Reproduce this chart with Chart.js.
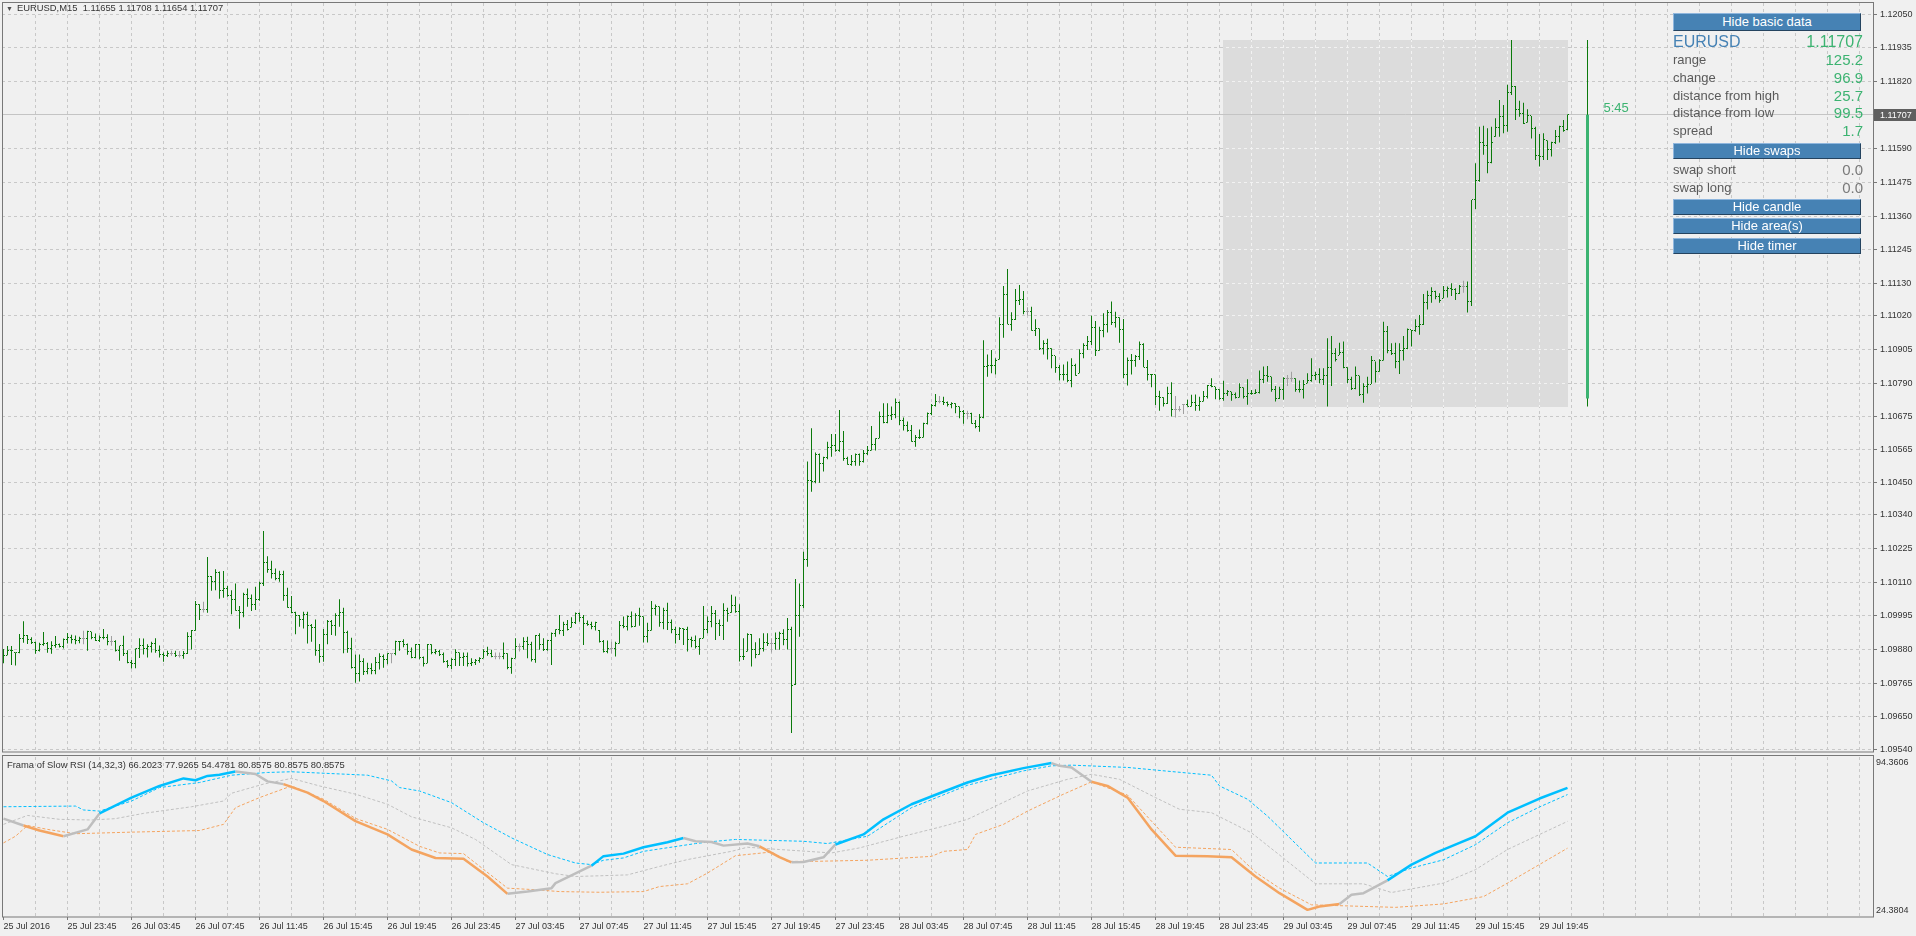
<!DOCTYPE html>
<html lang="en">
<head>
<meta charset="UTF-8">
<title>EURUSD,M15</title>
<script src="https://cdn.jsdelivr.net/npm/chart.js@4.4.0/dist/chart.umd.min.js"></script>
<style>
  html, body { margin: 0; padding: 0; background: #f0f0f0; }
  body { width: 1916px; height: 936px; position: relative; overflow: hidden; font-family: 'Liberation Sans', Arial, sans-serif; }
  canvas { position: absolute; left: 0; }
  #mainChart { top: 0; }
  #subChart { top: 754px; }
  .title { position: absolute; font-size: 9.4px; line-height: 11px; color: #333; white-space: pre; }
  .tri { display: inline-block; width: 11px; font-size: 7px; color: #505050; }
  .btn { position: absolute; left: 1673px; width: 188px; background: #4682b4; color: #fff; font-size: 13px; text-align: center;
         border-top: 1px solid #8fb6dd; border-left: 1px solid #8fb6dd; border-bottom: 1px solid #24435f; border-right: 1px solid #24435f; box-sizing: border-box; }
  .row { position: absolute; left: 1673px; width: 190px; height: 18px; line-height: 18px; font-size: 13px; color: #5a5a5a; }
  .row b { position: absolute; right: 0; top: 0; font-weight: normal; font-size: 15px; color: #3cb371; }
  .row.sym { font-size: 16px; color: #4682b4; }
  .row.sym b { font-size: 16px; }
  .row.grey b { color: #7a7a7a; }
</style>
</head>
<body>
<canvas id="mainChart" width="1916" height="755"></canvas>
<canvas id="subChart" width="1916" height="182"></canvas>
<div class="title" id="mainTitle" style="left:6px; top:2px;"></div>
<div class="title" id="subTitle" style="left:7px; top:759px;"></div>
<div id="panel"></div>

<script>
// ---- chart data (EURUSD M15, 25 Jul 19:45 .. 29 Jul 21:30) ----
const symbolName = 'EURUSD';
const periodName = 'M15';

const opens = [
1.09866,1.09861,1.09876,1.09870,1.09869,1.09918,1.09928,1.09916,1.09903,1.09878,
1.09899,1.09901,1.09884,1.09895,1.09899,1.09890,1.09915,1.09920,1.09915,1.09912,
1.09918,1.09918,1.09941,1.09922,1.09912,1.09922,1.09920,1.09907,1.09907,1.09876,
1.09893,1.09867,1.09835,1.09832,1.09882,1.09895,1.09882,1.09891,1.09901,1.09876,
1.09863,1.09861,1.09868,1.09868,1.09861,1.09861,1.09867,1.09924,1.09944,1.10033,
1.10018,1.10018,1.10129,1.10111,1.10142,1.10083,1.10089,1.10065,1.10051,1.10013,
1.10005,1.10068,1.10055,1.10034,1.10050,1.10105,1.10176,1.10154,1.10141,1.10122,
1.10138,1.10066,1.10025,1.10005,1.09997,1.09983,1.10000,1.09963,1.09957,1.09877,
1.09858,1.09933,1.09975,1.09961,1.09996,1.10006,1.09937,1.09884,1.09818,1.09797,
1.09838,1.09804,1.09815,1.09810,1.09837,1.09855,1.09846,1.09865,1.09865,1.09906,
1.09907,1.09899,1.09873,1.09854,1.09896,1.09854,1.09833,1.09896,1.09870,1.09873,
1.09862,1.09839,1.09827,1.09847,1.09870,1.09852,1.09856,1.09833,1.09835,1.09842,
1.09850,1.09875,1.09867,1.09858,1.09856,1.09856,1.09865,1.09819,1.09850,1.09890,
1.09890,1.09906,1.09899,1.09847,1.09928,1.09899,1.09879,1.09911,1.09936,1.09947,
1.09945,1.09967,1.09955,1.09972,1.10002,1.09990,1.09970,1.09967,1.09958,1.09945,
1.09907,1.09873,1.09884,1.09884,1.09901,1.09961,1.09958,1.09993,1.09958,1.09996,
1.09993,1.09924,1.09945,1.10020,1.10027,1.09972,1.10013,1.09972,1.09947,1.09930,
1.09952,1.09947,1.09915,1.09911,1.09890,1.09919,1.09949,1.09975,1.10002,1.09970,
1.09961,1.10015,1.10006,1.10029,1.10010,1.09856,1.09873,1.09930,1.09879,1.09864,
1.09884,1.09904,1.09901,1.09901,1.09919,1.09936,1.09913,1.09950,1.09759,1.09996,
1.10032,1.10186,1.10459,1.10454,1.10545,1.10514,1.10537,1.10571,1.10577,1.10560,
1.10590,1.10533,1.10513,1.10522,1.10548,1.10522,1.10550,1.10560,1.10579,1.10602,
1.10676,1.10655,1.10678,1.10684,1.10723,1.10664,1.10645,1.10630,1.10592,1.10605,
1.10604,1.10653,1.10685,1.10714,1.10727,1.10727,1.10725,1.10718,1.10721,1.10710,
1.10693,1.10687,1.10687,1.10651,1.10641,1.10673,1.10846,1.10852,1.10851,1.10871,
1.10991,1.11093,1.10991,1.11006,1.11074,1.11076,1.11034,1.11034,1.10969,1.10977,
1.10907,1.10926,1.10909,1.10883,1.10845,1.10820,1.10821,1.10799,1.10849,1.10824,
1.10890,1.10920,1.10934,1.10980,1.10903,1.10969,1.10989,1.11031,1.10997,1.11015,
1.10972,1.10818,1.10867,1.10869,1.10881,1.10923,1.10844,1.10818,1.10820,1.10744,
1.10741,1.10721,1.10755,1.10701,1.10701,1.10718,1.10718,1.10710,1.10725,1.10715,
1.10727,1.10744,1.10782,1.10778,1.10767,1.10736,1.10755,1.10761,1.10750,1.10741,
1.10775,1.10744,1.10753,1.10755,1.10758,1.10801,1.10815,1.10812,1.10767,1.10738,
1.10770,1.10807,1.10807,1.10807,1.10770,1.10767,1.10790,1.10799,1.10815,1.10818,
1.10801,1.10815,1.10844,1.10892,1.10886,1.10894,1.10844,1.10801,1.10772,1.10815,
1.10750,1.10780,1.10787,1.10869,1.10829,1.10869,1.10966,1.10901,1.10892,1.10864,
1.10903,1.10909,1.10972,1.10969,1.10983,1.10989,1.11065,1.11091,1.11103,1.11086,
1.11080,1.11106,1.11114,1.11111,1.11095,1.11120,1.11120,1.11069,1.11416,1.11481,
1.11613,1.11601,1.11543,1.11632,1.11664,1.11700,1.11669,1.11782,1.11803,1.11726,
1.11710,1.11680,1.11703,1.11661,1.11566,1.11564,1.11619,1.11589,1.11612,1.11634,
1.11666,1.11655];

const highs = [
1.09882,1.09892,1.09892,1.09870,1.09933,1.09977,1.09930,1.09922,1.09907,1.09903,
1.09940,1.09906,1.09908,1.09926,1.09901,1.09918,1.09937,1.09931,1.09928,1.09924,
1.09944,1.09944,1.09941,1.09935,1.09928,1.09950,1.09932,1.09926,1.09912,1.09893,
1.09927,1.09878,1.09844,1.09884,1.09919,1.09918,1.09898,1.09907,1.09919,1.09894,
1.09870,1.09876,1.09876,1.09876,1.09875,1.09875,1.09939,1.09947,1.10046,1.10035,
1.10043,1.10196,1.10131,1.10154,1.10147,1.10148,1.10097,1.10083,1.10106,1.10029,
1.10074,1.10089,1.10068,1.10095,1.10112,1.10285,1.10199,1.10183,1.10157,1.10149,
1.10149,1.10091,1.10063,1.10009,1.09998,1.10009,1.10009,1.09967,1.09983,1.09899,
1.09950,1.09981,1.09981,1.10004,1.10052,1.10023,1.09944,1.09920,1.09863,1.09863,
1.09850,1.09835,1.09833,1.09855,1.09867,1.09863,1.09867,1.09867,1.09910,1.09909,
1.09915,1.09901,1.09887,1.09899,1.09899,1.09856,1.09899,1.09898,1.09882,1.09879,
1.09870,1.09844,1.09850,1.09881,1.09870,1.09870,1.09870,1.09850,1.09848,1.09854,
1.09881,1.09890,1.09879,1.09870,1.09870,1.09904,1.09867,1.09852,1.09919,1.09901,
1.09922,1.09924,1.09907,1.09930,1.09936,1.09919,1.09913,1.09938,1.09949,1.09998,
1.09975,1.09981,1.09990,1.10007,1.10007,1.09998,1.09979,1.09975,1.09975,1.09947,
1.09913,1.09911,1.09907,1.09907,1.09978,1.09993,1.09996,1.10010,1.10004,1.10023,
1.09993,1.09972,1.10046,1.10034,1.10027,1.10023,1.10040,1.09983,1.09958,1.09956,
1.09953,1.09958,1.09924,1.09928,1.09919,1.10029,1.09993,1.10029,1.10015,1.09983,
1.10038,1.10023,1.10067,1.10061,1.10035,1.09919,1.09936,1.09933,1.09905,1.09919,
1.09936,1.09936,1.09919,1.09938,1.09941,1.09949,1.09988,1.09958,1.10121,1.10106,
1.10214,1.10522,1.10636,1.10553,1.10550,1.10539,1.10590,1.10616,1.10616,1.10698,
1.10627,1.10539,1.10545,1.10550,1.10550,1.10562,1.10575,1.10644,1.10602,1.10693,
1.10721,1.10721,1.10710,1.10738,1.10727,1.10673,1.10659,1.10647,1.10613,1.10632,
1.10655,1.10690,1.10719,1.10753,1.10746,1.10744,1.10727,1.10725,1.10721,1.10710,
1.10698,1.10696,1.10689,1.10664,1.10685,1.10937,1.10888,1.10903,1.10875,1.11015,
1.11122,1.11180,1.11032,1.11112,1.11125,1.11105,1.11049,1.11051,1.11008,1.10977,
1.10937,1.10942,1.10909,1.10883,1.10852,1.10854,1.10864,1.10875,1.10856,1.10906,
1.10926,1.10951,1.11020,1.11002,1.10983,1.11029,1.11040,1.11069,1.11034,1.11015,
1.11009,1.10878,1.10890,1.10886,1.10932,1.10926,1.10869,1.10821,1.10820,1.10764,
1.10742,1.10778,1.10793,1.10746,1.10712,1.10719,1.10733,1.10750,1.10751,1.10744,
1.10763,1.10784,1.10807,1.10778,1.10769,1.10798,1.10767,1.10761,1.10758,1.10790,
1.10775,1.10803,1.10767,1.10769,1.10833,1.10847,1.10849,1.10812,1.10780,1.10778,
1.10810,1.10818,1.10829,1.10807,1.10799,1.10801,1.10824,1.10875,1.10829,1.10841,
1.10841,1.10943,1.10951,1.10909,1.10928,1.10932,1.10844,1.10812,1.10847,1.10815,
1.10790,1.10812,1.10883,1.10864,1.10872,1.11000,1.10985,1.10926,1.10928,1.10926,
1.10951,1.10977,1.10972,1.11008,1.11023,1.11095,1.11106,1.11118,1.11106,1.11097,
1.11122,1.11120,1.11131,1.11114,1.11125,1.11140,1.11137,1.11416,1.11541,1.11666,
1.11669,1.11661,1.11666,1.11695,1.11757,1.11740,1.11809,1.11962,1.11805,1.11755,
1.11748,1.11726,1.11703,1.11666,1.11641,1.11644,1.11619,1.11615,1.11655,1.11669,
1.11689,1.11708];

const lows = [
1.09833,1.09861,1.09827,1.09826,1.09867,1.09903,1.09899,1.09899,1.09866,1.09873,
1.09893,1.09869,1.09866,1.09886,1.09887,1.09884,1.09901,1.09901,1.09898,1.09902,
1.09898,1.09876,1.09915,1.09909,1.09906,1.09915,1.09895,1.09893,1.09873,1.09842,
1.09858,1.09833,1.09815,1.09816,1.09851,1.09863,1.09853,1.09870,1.09869,1.09853,
1.09838,1.09855,1.09859,1.09855,1.09853,1.09849,1.09865,1.09880,1.09944,1.09981,
1.10007,1.10006,1.10081,1.10083,1.10054,1.10057,1.10060,1.10001,1.10013,1.09951,
1.09990,1.10026,1.10012,1.10015,1.10047,1.10097,1.10142,1.10123,1.10117,1.10112,
1.10047,1.10023,1.10004,1.09932,1.09958,1.09952,1.09901,1.09907,1.09859,1.09835,
1.09838,1.09898,1.09930,1.09927,1.09958,1.09867,1.09869,1.09815,1.09767,1.09771,
1.09793,1.09796,1.09796,1.09796,1.09812,1.09818,1.09830,1.09833,1.09861,1.09876,
1.09888,1.09862,1.09850,1.09850,1.09847,1.09822,1.09833,1.09864,1.09864,1.09858,
1.09835,1.09818,1.09814,1.09824,1.09824,1.09824,1.09822,1.09824,1.09827,1.09835,
1.09850,1.09859,1.09854,1.09847,1.09847,1.09847,1.09813,1.09797,1.09850,1.09873,
1.09879,1.09850,1.09839,1.09835,1.09879,1.09875,1.09876,1.09827,1.09924,1.09932,
1.09926,1.09945,1.09955,1.09967,1.09975,1.09896,1.09961,1.09949,1.09945,1.09904,
1.09870,1.09867,1.09867,1.09856,1.09901,1.09953,1.09945,1.09955,1.09958,1.09961,
1.09904,1.09904,1.09945,1.09996,1.09958,1.09949,1.09947,1.09936,1.09901,1.09913,
1.09896,1.09873,1.09888,1.09884,1.09862,1.09919,1.09936,1.09956,1.09913,1.09926,
1.09913,1.09975,1.10006,1.10006,1.09839,1.09844,1.09873,1.09822,1.09850,1.09862,
1.09873,1.09892,1.09870,1.09879,1.09879,1.09895,1.09880,1.09595,1.09759,1.09924,
1.10021,1.10163,1.10419,1.10448,1.10450,1.10488,1.10530,1.10539,1.10556,1.10556,
1.10525,1.10511,1.10508,1.10508,1.10508,1.10519,1.10545,1.10560,1.10560,1.10602,
1.10653,1.10653,1.10664,1.10670,1.10647,1.10628,1.10624,1.10590,1.10573,1.10599,
1.10604,1.10649,1.10680,1.10710,1.10721,1.10715,1.10710,1.10704,1.10687,1.10670,
1.10651,1.10667,1.10651,1.10636,1.10624,1.10670,1.10812,1.10824,1.10820,1.10871,
1.10945,1.10991,1.10969,1.11006,1.11057,1.11025,1.11021,1.10969,1.10951,1.10903,
1.10888,1.10871,1.10841,1.10826,1.10799,1.10799,1.10793,1.10776,1.10815,1.10824,
1.10875,1.10903,1.10920,1.10883,1.10901,1.10947,1.10963,1.10989,1.10980,1.10928,
1.10807,1.10782,1.10820,1.10846,1.10869,1.10844,1.10799,1.10776,1.10715,1.10696,
1.10710,1.10719,1.10676,1.10673,1.10693,1.10685,1.10710,1.10710,1.10696,1.10696,
1.10727,1.10738,1.10776,1.10735,1.10733,1.10730,1.10746,1.10730,1.10738,1.10741,
1.10738,1.10716,1.10750,1.10753,1.10755,1.10790,1.10795,1.10761,1.10727,1.10736,
1.10733,1.10780,1.10795,1.10761,1.10758,1.10738,1.10790,1.10795,1.10801,1.10790,
1.10784,1.10710,1.10780,1.10864,1.10886,1.10841,1.10790,1.10767,1.10769,1.10746,
1.10723,1.10755,1.10787,1.10792,1.10829,1.10867,1.10892,1.10886,1.10841,1.10821,
1.10867,1.10906,1.10915,1.10966,1.10955,1.10989,1.11042,1.11065,1.11077,1.11065,
1.11080,1.11083,1.11088,1.11074,1.11095,1.11099,1.11031,1.11054,1.11384,1.11478,
1.11570,1.11507,1.11541,1.11632,1.11632,1.11644,1.11649,1.11774,1.11689,1.11700,
1.11675,1.11680,1.11626,1.11552,1.11530,1.11552,1.11552,1.11564,1.11607,1.11612,
1.11649,1.11654];

const closes = [
1.09859,1.09876,1.09878,1.09869,1.09918,1.09928,1.09916,1.09903,1.09878,1.09899,
1.09901,1.09884,1.09895,1.09899,1.09890,1.09915,1.09920,1.09915,1.09912,1.09918,
1.09918,1.09941,1.09922,1.09912,1.09922,1.09920,1.09907,1.09907,1.09876,1.09893,
1.09867,1.09835,1.09832,1.09882,1.09895,1.09882,1.09891,1.09901,1.09876,1.09863,
1.09861,1.09868,1.09868,1.09861,1.09861,1.09867,1.09924,1.09944,1.10033,1.10018,
1.10018,1.10129,1.10111,1.10142,1.10083,1.10089,1.10065,1.10051,1.10013,1.10005,
1.10068,1.10055,1.10034,1.10050,1.10105,1.10176,1.10154,1.10141,1.10122,1.10138,
1.10066,1.10025,1.10005,1.09997,1.09983,1.10000,1.09963,1.09957,1.09877,1.09858,
1.09933,1.09975,1.09961,1.09996,1.10006,1.09937,1.09884,1.09818,1.09797,1.09838,
1.09804,1.09815,1.09810,1.09837,1.09855,1.09846,1.09865,1.09865,1.09906,1.09907,
1.09899,1.09873,1.09854,1.09896,1.09854,1.09833,1.09896,1.09870,1.09873,1.09862,
1.09839,1.09827,1.09847,1.09870,1.09852,1.09856,1.09833,1.09835,1.09842,1.09850,
1.09875,1.09867,1.09858,1.09858,1.09856,1.09865,1.09819,1.09850,1.09890,1.09890,
1.09906,1.09899,1.09847,1.09928,1.09899,1.09879,1.09911,1.09936,1.09947,1.09945,
1.09967,1.09950,1.09972,1.10002,1.09990,1.09970,1.09967,1.09958,1.09972,1.09907,
1.09873,1.09884,1.09884,1.09901,1.09961,1.09958,1.09993,1.09958,1.09996,1.09993,
1.09924,1.09945,1.10020,1.10027,1.09972,1.10013,1.09972,1.09947,1.09930,1.09952,
1.09947,1.09915,1.09911,1.09890,1.09919,1.09949,1.09975,1.10002,1.09970,1.09961,
1.10015,1.10004,1.10029,1.10010,1.09856,1.09858,1.09930,1.09879,1.09864,1.09884,
1.09904,1.09901,1.09901,1.09919,1.09936,1.09913,1.09950,1.09757,1.09996,1.10032,
1.10186,1.10459,1.10454,1.10545,1.10514,1.10537,1.10571,1.10577,1.10560,1.10590,
1.10533,1.10513,1.10522,1.10548,1.10522,1.10550,1.10560,1.10579,1.10602,1.10676,
1.10655,1.10678,1.10684,1.10723,1.10664,1.10645,1.10630,1.10592,1.10605,1.10604,
1.10653,1.10685,1.10714,1.10727,1.10727,1.10725,1.10718,1.10721,1.10710,1.10693,
1.10687,1.10687,1.10651,1.10641,1.10673,1.10846,1.10852,1.10851,1.10869,1.10991,
1.11093,1.10991,1.11006,1.11074,1.11076,1.11034,1.11034,1.10969,1.10977,1.10907,
1.10926,1.10909,1.10883,1.10845,1.10820,1.10821,1.10799,1.10849,1.10816,1.10890,
1.10920,1.10934,1.10980,1.10903,1.10969,1.10989,1.11031,1.10997,1.11015,1.10972,
1.10818,1.10867,1.10869,1.10881,1.10923,1.10844,1.10818,1.10820,1.10744,1.10741,
1.10721,1.10755,1.10701,1.10701,1.10701,1.10718,1.10710,1.10725,1.10715,1.10727,
1.10744,1.10782,1.10778,1.10767,1.10736,1.10755,1.10761,1.10750,1.10741,1.10775,
1.10744,1.10753,1.10755,1.10758,1.10801,1.10815,1.10812,1.10767,1.10738,1.10770,
1.10807,1.10807,1.10807,1.10770,1.10767,1.10787,1.10799,1.10815,1.10818,1.10801,
1.10815,1.10844,1.10892,1.10872,1.10894,1.10844,1.10801,1.10772,1.10815,1.10750,
1.10780,1.10787,1.10869,1.10829,1.10869,1.10966,1.10901,1.10892,1.10864,1.10903,
1.10909,1.10972,1.10969,1.10983,1.10989,1.11065,1.11091,1.11103,1.11086,1.11074,
1.11106,1.11114,1.11111,1.11095,1.11120,1.11120,1.11069,1.11416,1.11481,1.11613,
1.11601,1.11543,1.11612,1.11664,1.11700,1.11669,1.11782,1.11803,1.11726,1.11710,
1.11678,1.11703,1.11661,1.11566,1.11564,1.11621,1.11589,1.11612,1.11634,1.11666,
1.11652,1.11707];

// today's (29 Jul) range area and daily candle
const dayStartIdx = 305;
const dayOpen = 1.10738, dayHigh = 1.11962, dayLow = 1.10710, dayClose = 1.11707;
const timerText = '5:45';

// price axis labels
const yTicks = [1.12050,1.11935,1.11820,1.11590,1.11475,1.11360,1.11245,1.11130,1.11020,1.10905,1.10790,
  1.10675,1.10565,1.10450,1.10340,1.10225,1.10110,1.09995,1.09880,1.09765,1.09650,1.09540];

// time labels, one every 16 bars
const timeLabels = ['25 Jul 2016','25 Jul 23:45','26 Jul 03:45','26 Jul 07:45','26 Jul 11:45','26 Jul 15:45',
  '26 Jul 19:45','26 Jul 23:45','27 Jul 03:45','27 Jul 07:45','27 Jul 11:45','27 Jul 15:45','27 Jul 19:45',
  '27 Jul 23:45','28 Jul 03:45','28 Jul 07:45','28 Jul 11:45','28 Jul 15:45','28 Jul 19:45','28 Jul 23:45',
  '29 Jul 03:45','29 Jul 07:45','29 Jul 11:45','29 Jul 15:45','29 Jul 19:45'];

// Frama of Slow RSI: main line (colour by state u/d/n), upper, middle, lower levels
const rsiIdx = [0,5,9,15,21,24,32,39,45,48,51,54,58,63,66,70,76,80,88,96,102,108,115,121,126,131,137,138,147,150,
  155,160,166,170,173,177,180,186,189,194,197,200,205,208,215,220,227,234,241,247,255,262,264,267,272,276,281,287,293,301,
  307,313,319,326,329,334,337,340,346,352,358,364,368,376,384,391];
const rsiVal = [67.4,64.4,62.2,59.7,62.7,69.7,76.6,81.7,85.0,84.2,86.1,86.6,88.0,86.9,83.7,82.5,78.8,75.1,66.3,60.5,
  53.9,50.2,49.9,42.1,34.5,35.5,37.0,39.2,46.8,51.0,52.1,54.9,57.1,58.9,57.5,57.2,55.6,56.5,55.3,50.6,
  48.3,48.4,50.5,56.1,60.5,67.1,73.7,78.5,83.2,86.4,89.5,91.7,90.5,89.8,83.5,81.7,76.6,62.7,51.2,50.9,
  50.5,42.1,34.8,27.5,29.0,30.1,34.1,34.8,40.4,47.3,52.4,56.8,59.7,70.0,76.2,80.8575];
const rsiState = ('nnddnnuuuu' + 'uuunnndddd' + 'dddddnnnnu' + 'uuuunnnnnd' + 'dnnnuuuuuu' +
  'uunnnddddd' + 'ddddddnnnu' + 'uuuuuu').split('');

const upIdx = [0,18,20,24,32,39,49,57,66,72,91,97,99,104,112,120,127,136,143,147,150,155,160,173,178,183,200,206,216,227,
  241,255,262,267,281,292,302,304,311,316,319,328,341,346,352,360,368,376,384,391];
const upVal = [72.6,72.9,71.2,70.7,75.1,81.0,83.2,86.4,87.6,87.9,86.4,83.9,81.0,79.5,74.4,65.6,59.0,51.7,48.0,47.3,
  49.2,50.2,53.1,56.5,57.5,58.3,57.5,56.5,59.7,72.2,82.0,88.3,90.5,90.8,89.8,88.0,86.4,81.7,75.9,68.5,
  63.4,48.0,48.0,42.1,45.8,49.4,56.0,65.6,72.5,77.9265];

const midIdx = [0,6,14,22,28,35,47,55,57,65,72,79,88,96,102,112,118,127,138,143,149,156,164,171,182,186,194,201,207,214,
  225,235,241,249,256,266,272,279,288,294,302,312,319,328,340,347,360,368,376,391];
const midVal = [64.9,68.8,67.1,66.8,67.4,69.7,72.6,75.1,78.5,82.5,85.0,81.7,78.1,73.7,68.2,63.4,58.3,47.3,43.3,42.1,
  42.4,42.8,46.5,49.5,53.1,54.9,53.9,53.1,52.4,54.6,59.7,64.1,67.1,73.7,79.5,84.6,86.8,84.6,76.6,71.5,
  70.0,61.2,51.5,38.9,38.9,35.1,39.2,45.1,53.9,66.2023];

const dnIdx = [0,3,6,11,18,32,49,55,58,64,72,80,88,96,104,109,115,126,133,139,149,160,164,171,176,183,192,196,202,216,
  232,235,241,243,250,256,265,272,281,293,307,313,319,327,348,360,370,376,391];
const dnVal = [56.8,59.7,64.4,62.7,60.8,61.5,62.2,64.9,72.2,76.6,81.7,75.9,67.5,62.7,55.3,52.4,52.1,37.0,36.3,35.5,
  35.2,35.5,37.7,38.9,43.6,51.2,52.8,48.7,48.7,49.2,50.9,53.1,53.9,60.5,64.9,70.7,78.1,83.5,77.7,54.9,
  53.9,44.0,37.0,29.7,28.6,30.1,33.3,39.2,54.4781];

const rsiMin = 24.3804, rsiMax = 94.3606;
const indicatorName = 'Frama of Slow RSI (14,32,3)';
const indicatorLegend = [66.2023, 77.9265, 54.4781, 80.8575, 80.8575, 80.8575];

const infoRows = [['range','125.2'],['change','96.9'],['distance from high','25.7'],['distance from low','99.5'],['spread','1.7']];
const swapRows = [['swap short','0.0'],['swap long','0.0']];

// ---- layout ----
const X_MIN = -0.375, X_MAX = 467.375;   // 4 px per bar
const dayCandleIdx = 396, timerIdx = 400;
const lastIdx = closes.length - 1;
const FONT = "'Liberation Sans', Arial, sans-serif";
const TEXT = '#333333';
const barColors = closes.map((c, i) => c === opens[i] ? '#a0a0a0' : '#0b7a0b');
const gridIdx = [];
for (let v = 0; v <= 464; v += 8) gridIdx.push(v);

document.getElementById('mainTitle').innerHTML = '<span class="tri">\u25BC</span>' + symbolName + ',' + periodName + '  ' +
  [opens[lastIdx], highs[lastIdx], lows[lastIdx], closes[lastIdx]].map(v => v.toFixed(5)).join(' ');
document.getElementById('subTitle').textContent = indicatorName + ' ' + indicatorLegend.map(v => v.toFixed(4)).join(' ');

// info panel on the right
(function () {
  const panel = document.getElementById('panel');
  const add = (cls, top, html, h) => {
    const d = document.createElement('div');
    d.className = cls; d.style.top = top + 'px';
    if (h) { d.style.height = h + 'px'; d.style.lineHeight = (h - 2) + 'px'; }
    d.innerHTML = html; panel.appendChild(d);
  };
  add('btn', 13, 'Hide basic data', 18);
  add('row sym', 33, symbolName + '<b>' + closes[lastIdx].toFixed(5) + '</b>');
  const rowTops = [51, 69, 87, 104, 122];
  infoRows.forEach((r, k) => add('row', rowTops[k], r[0] + '<b>' + r[1] + '</b>'));
  add('btn', 143, 'Hide swaps', 16);
  [161, 179].forEach((t, k) => add('row grey', t, swapRows[k][0] + '<b>' + swapRows[k][1] + '</b>'));
  add('btn', 199, 'Hide candle', 16);
  add('btn', 218, 'Hide area(s)', 16);
  add('btn', 238, 'Hide timer', 16);
})();

const framePlugin = {
  id: 'frame',
  afterDraw(chart) {
    const { ctx, chartArea: a } = chart;
    const off = chart.canvas.id === 'subChart' ? 1.5 : 0.5;
    ctx.save();
    ctx.strokeStyle = '#787878';
    ctx.lineWidth = 1;
    ctx.strokeRect(a.left + 0.5, a.top - off, a.right - a.left, a.bottom - a.top + off);
    ctx.restore();
  }
};

const dayAreaPlugin = {
  id: 'dayArea',
  beforeDatasetsDraw(chart) {
    const { ctx, chartArea: a, scales: { x, y } } = chart;
    const x0 = Math.floor(x.getPixelForValue(dayStartIdx));
    const x1 = Math.floor(x.getPixelForValue(lastIdx)) + 1;
    const y0 = Math.round(y.getPixelForValue(dayHigh));
    const y1 = Math.round(y.getPixelForValue(dayLow));
    ctx.save();
    ctx.fillStyle = '#dcdcdc';
    ctx.fillRect(x0, y0, x1 - x0, y1 - y0);
    ctx.beginPath();
    ctx.rect(x0, y0, x1 - x0, y1 - y0);
    ctx.clip();
    ctx.strokeStyle = '#f2f2f2';
    ctx.lineWidth = 1;
    ctx.setLineDash([3, 3]);
    x.ticks.forEach(t => {
      if (!t.value) return;
      const px = Math.round(x.getPixelForValue(t.value) - 0.5) + 0.5;
      ctx.beginPath(); ctx.moveTo(px, a.top); ctx.lineTo(px, a.bottom); ctx.stroke();
    });
    y.ticks.forEach(t => {
      const py = Math.round(y.getPixelForValue(t.value) - 0.5) + 0.5;
      ctx.beginPath(); ctx.moveTo(a.left, py); ctx.lineTo(a.right, py); ctx.stroke();
    });
    ctx.restore();
    // bid line
    const yp = Math.round(y.getPixelForValue(closes[lastIdx]) - 0.5) + 0.5;
    ctx.save();
    ctx.strokeStyle = '#c4c4c4';
    ctx.lineWidth = 1;
    ctx.beginPath(); ctx.moveTo(a.left, yp); ctx.lineTo(a.right, yp); ctx.stroke();
    ctx.restore();
  }
};

const ohlcTickPlugin = {
  id: 'ohlcTicks',
  afterDatasetsDraw(chart) {
    const { ctx, scales: { x, y } } = chart;
    ctx.save();
    closes.forEach((c, i) => {
      const px = Math.floor(x.getPixelForValue(i));
      ctx.fillStyle = barColors[i];
      ctx.fillRect(px - 1, Math.floor(y.getPixelForValue(opens[i])), 1, 1);
      ctx.fillRect(px + 1, Math.floor(y.getPixelForValue(c)), 1, 1);
    });
    ctx.restore();
  }
};

const bidLabelPlugin = {
  id: 'bidLabel',
  afterDraw(chart) {
    const { ctx, chartArea: a, scales: { x, y } } = chart;
    const yp = Math.round(y.getPixelForValue(closes[lastIdx]));
    ctx.save();
    ctx.fillStyle = '#5f5f5f';
    ctx.fillRect(a.right + 1, yp - 6, chart.width - a.right - 1, 12);
    ctx.fillStyle = '#ffffff';
    ctx.font = '9px ' + FONT;
    ctx.textBaseline = 'middle';
    ctx.fillText(closes[lastIdx].toFixed(5), a.right + 7, yp + 0.5);
    ctx.fillStyle = '#3cb371';
    ctx.font = '13px ' + FONT;
    ctx.fillText(timerText, x.getPixelForValue(timerIdx), yp - 7);
    ctx.restore();
  }
};

const rsiLabelPlugin = {
  id: 'rsiLabels',
  afterDraw(chart) {
    const { ctx, chartArea: a, scales: { y } } = chart;
    ctx.save();
    ctx.fillStyle = TEXT;
    ctx.font = '9px ' + FONT;
    ctx.textBaseline = 'middle';
    ctx.fillText(rsiMax.toFixed(4), a.right + 3, y.getPixelForValue(rsiMax) + 6);
    ctx.fillText(rsiMin.toFixed(4), a.right + 3, y.getPixelForValue(rsiMin) - 6);
    ctx.restore();
  }
};

const noPad = s => { s.paddingTop = 0; s.paddingBottom = 0; s.paddingLeft = 0; s.paddingRight = 0; };

new Chart(document.getElementById('mainChart'), {
  type: 'bar',
  data: {
    datasets: [
      { label: 'day body', data: [{ x: dayCandleIdx, y: [dayOpen, dayClose] }], backgroundColor: '#3cb371',
        barThickness: 3, grouped: false, inflateAmount: 0, order: 0 },
      { label: 'day range', data: [{ x: dayCandleIdx, y: [dayLow, dayHigh] }], backgroundColor: '#0b7a0b',
        barThickness: 1, grouped: false, inflateAmount: 0, order: 1 },
      { label: symbolName, data: highs.map((h, i) => ({ x: i, y: [lows[i], h] })), backgroundColor: barColors,
        barThickness: 1, grouped: false, inflateAmount: 0, order: 2 }
    ]
  },
  options: {
    responsive: false,
    animation: false,
    layout: { padding: { left: 2, top: 3, right: 0, bottom: 3 } },
    plugins: { legend: { display: false }, tooltip: { enabled: false } },
    scales: {
      x: {
        type: 'linear', min: X_MIN, max: X_MAX, offset: false,
        afterBuildTicks: s => { s.ticks = gridIdx.map(v => ({ value: v })); },
        ticks: { display: false },
        grid: { offset: false, drawTicks: false, color: c => (c.tick && c.tick.value === 0) ? 'rgba(0,0,0,0)' : '#c8c8c8' },
        border: { display: false, dash: [3, 3] },
        afterFit: s => { s.height = 0; noPad(s); }
      },
      y: {
        position: 'right', min: 1.095301, max: 1.120886,
        afterBuildTicks: s => { s.ticks = yTicks.map(v => ({ value: v })); },
        ticks: { autoSkip: false, padding: 3, color: TEXT, font: { family: FONT, size: 9 }, callback: v => v.toFixed(5) },
        grid: { color: '#c8c8c8', tickLength: 4, tickColor: '#787878', tickBorderDash: [] },
        border: { display: false, dash: [3, 3] },
        afterFit: s => { s.width = 43; noPad(s); }
      }
    }
  },
  plugins: [dayAreaPlugin, ohlcTickPlugin, framePlugin, bidLabelPlugin]
});

const pts = (xs, ys) => xs.map((v, k) => ({ x: v, y: ys[k] }));
const stateColor = { u: '#00bfff', d: '#f4a460', n: '#bebebe' };

new Chart(document.getElementById('subChart'), {
  type: 'line',
  data: {
    datasets: [
      { label: 'Frama', data: pts(rsiIdx, rsiVal), borderColor: '#00bfff', borderWidth: 2.5, pointRadius: 0,
        borderJoinStyle: 'round', segment: { borderColor: c => stateColor[rsiState[c.p1DataIndex]] }, order: 0 },
      { label: 'upper', data: pts(upIdx, upVal), borderColor: '#00bfff', borderWidth: 1, borderDash: [3, 2], pointRadius: 0, order: 1 },
      { label: 'middle', data: pts(midIdx, midVal), borderColor: '#c0c0c0', borderWidth: 1, borderDash: [3, 2], pointRadius: 0, order: 2 },
      { label: 'lower', data: pts(dnIdx, dnVal), borderColor: '#f4a460', borderWidth: 1, borderDash: [3, 2], pointRadius: 0, order: 3 }
    ]
  },
  options: {
    responsive: false,
    animation: false,
    layout: { padding: { left: 2, top: 3, right: 0, bottom: 0 } },
    plugins: { legend: { display: false }, tooltip: { enabled: false } },
    scales: {
      x: {
        type: 'linear', min: X_MIN, max: X_MAX, offset: false,
        afterBuildTicks: s => { s.ticks = gridIdx.map(v => ({ value: v })); },
        ticks: {
          autoSkip: false, maxRotation: 0, minRotation: 0, align: 'start', padding: 1,
          color: TEXT, font: { family: FONT, size: 9 },
          callback: v => (v % 16 === 0 && timeLabels[v / 16]) ? timeLabels[v / 16] : ''
        },
        grid: {
          offset: false, tickLength: 3, tickBorderDash: [],
          color: c => (c.tick && c.tick.value === 0) ? 'rgba(0,0,0,0)' : '#c8c8c8',
          tickColor: c => (c.tick && c.tick.value % 16 === 0 && timeLabels[c.tick.value / 16]) ? '#787878' : 'rgba(0,0,0,0)'
        },
        border: { display: false, dash: [3, 3] },
        afterFit: s => { s.height = 19; noPad(s); }
      },
      y: {
        position: 'right', min: rsiMin, max: rsiMax,
        ticks: { display: false },
        grid: { display: false },
        border: { display: false },
        afterFit: s => { s.width = 43; noPad(s); }
      }
    }
  },
  plugins: [framePlugin, rsiLabelPlugin]
});
</script>
</body>
</html>
